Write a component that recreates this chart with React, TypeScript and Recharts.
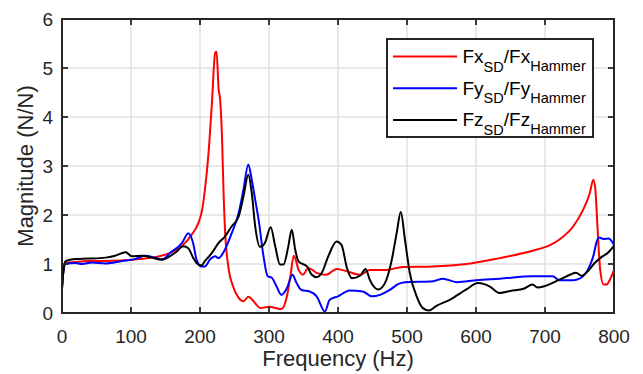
import React from 'react';
import { LineChart, Line, XAxis, YAxis, CartesianGrid, Legend, ReferenceArea } from 'recharts';

const FONT = "'Liberation Sans', Arial, Helvetica, sans-serif";
const AXIS = '#262626';
const PLOT_TOP = 19;
const PLOT_RIGHT = 614;
const TICK_LEN = 6;
const AXIS_W = 1.8;

const xTicks = [0, 100, 200, 300, 400, 500, 600, 700, 800];
const yTicks = [0, 1, 2, 3, 4, 5, 6];

// Fx_SD / Fx_Hammer (red)
const fxFreq = [0, 2, 5, 19, 38, 60, 87, 111, 135, 159, 174, 188, 198, 203, 207, 212, 217, 222, 224, 227, 229, 232, 234, 236.5, 241, 248, 256, 263, 270, 280, 287, 301, 310, 318, 326, 331, 336, 343, 349, 357, 369, 383, 398, 413, 432, 446, 470, 494, 538, 586, 634, 682, 708, 721, 741, 755, 765, 770, 773, 776, 780, 785, 789, 794, 800];
const fxMag = [0.5, 0.85, 1.02, 1.04, 1.06, 1.06, 1.07, 1.1, 1.14, 1.24, 1.37, 1.6, 1.85, 2.1, 2.5, 3.2, 4.22, 5.31, 5.33, 4.56, 4.38, 3.54, 2.52, 1.63, 0.95, 0.54, 0.31, 0.24, 0.33, 0.2, 0.1, 0.13, 0.1, 0.08, 0.34, 0.75, 1.17, 0.88, 0.78, 0.92, 0.82, 0.78, 0.9, 0.85, 0.78, 0.88, 0.88, 0.94, 0.95, 1.0, 1.12, 1.27, 1.39, 1.5, 1.77, 2.1, 2.45, 2.72, 2.52, 1.77, 0.88, 0.58, 0.58, 0.68, 0.88];

// Fy_SD / Fy_Hammer (blue)
const fyFreq = [0, 2, 5, 19, 29, 43, 63, 87, 106, 120, 135, 145, 157, 174, 183, 190, 195, 202, 207, 215, 222, 227, 236, 246, 256, 263, 270, 275, 280, 285, 292, 298, 304, 311, 318, 326, 334, 340, 347, 359, 369, 381, 388, 400, 417, 436, 449, 461, 475, 487, 497, 538, 552, 572, 601, 634, 682, 711, 721, 741, 750, 762, 770, 775, 778, 785, 792, 800];
const fyMag = [0.5, 0.85, 1.0, 1.02, 1.0, 1.03, 1.01, 1.06, 1.1, 1.17, 1.13, 1.09, 1.23, 1.43, 1.63, 1.43, 1.09, 0.95, 0.95, 1.1, 1.16, 1.12, 1.29, 1.63, 2.04, 2.52, 3.03, 2.72, 2.31, 1.9, 1.16, 0.75, 0.72, 0.54, 0.37, 0.51, 0.78, 0.61, 0.47, 0.44, 0.34, 0.03, 0.27, 0.34, 0.46, 0.44, 0.34, 0.37, 0.47, 0.59, 0.63, 0.65, 0.7, 0.63, 0.67, 0.7, 0.75, 0.75, 0.67, 0.67, 0.7, 0.88, 1.16, 1.46, 1.54, 1.51, 1.52, 1.39];

// Fz_SD / Fz_Hammer (black)
const fzFreq = [0, 2, 5, 19, 38, 63, 77, 92.5, 101, 116, 130, 145, 164, 176, 183, 190, 195, 202, 207, 217, 227, 236, 246, 256, 263, 270, 275, 280, 287, 294, 302.5, 309, 316, 321, 328, 333, 338, 343, 355, 362, 369, 376.5, 386, 398, 405, 413, 420, 432, 440, 446, 458, 468, 478, 485, 491, 497, 504, 514, 523, 532, 542, 562, 586, 603, 620, 634, 650, 670, 682, 689, 700, 721, 736, 745, 753, 762, 772, 780, 792, 800];
const fzMag = [0.5, 0.85, 1.06, 1.1, 1.11, 1.13, 1.17, 1.24, 1.16, 1.17, 1.13, 1.09, 1.23, 1.36, 1.32, 1.13, 1.02, 0.97, 1.06, 1.22, 1.43, 1.56, 1.77, 1.97, 2.38, 2.82, 2.45, 1.77, 1.35, 1.43, 1.75, 1.36, 0.99, 0.99, 1.36, 1.7, 1.29, 1.05, 0.95, 0.78, 0.73, 0.82, 1.16, 1.46, 1.39, 0.92, 0.71, 0.76, 0.9, 0.68, 0.48, 0.61, 1.09, 1.63, 2.06, 1.5, 0.82, 0.34, 0.1, 0.05, 0.14, 0.27, 0.48, 0.61, 0.54, 0.41, 0.45, 0.5, 0.58, 0.52, 0.55, 0.68, 0.78, 0.82, 0.76, 0.85, 1.02, 1.12, 1.24, 1.37];

const seriesNames = ['Fx', 'Fy', 'Fz'];
const seriesColors = ['#ff0000', '#0000ff', '#000000'];

const toData = (f: number[], m: number[]) => f.map((x, i) => ({ f: x, v: m[i] }));
const fxData = toData(fxFreq, fxMag);
const fyData = toData(fyFreq, fyMag);
const fzData = toData(fzFreq, fzMag);

const LegendBox = () => (
  <svg width={208} height={100} style={{ display: 'block' }}>
    <rect x={1} y={1} width={206} height={98} fill="#fff" stroke={AXIS} strokeWidth={2} />
    {seriesNames.map((n, i) => {
      const cy = 18.5 + i * 31.7;
      return (
        <g key={n}>
          <line x1={7} x2={71} y1={cy} y2={cy} stroke={seriesColors[i]} strokeWidth={2} />
          <text x={76.5} y={cy + 6.5} fontSize={19} fontFamily={FONT} fill="#000">
            {n}
            <tspan fontSize={14.5} dy={8.5}>SD</tspan>
            <tspan dy={-8.5}>/{n}</tspan>
            <tspan fontSize={14.5} dy={8}>Hammer</tspan>
          </text>
        </g>
      );
    })}
  </svg>
);

// bottom tick: label + mirrored inner tick on the top edge
const XTick = (props: any) => {
  const { x, y, payload } = props;
  return (
    <g>
      <line x1={x} x2={x} y1={PLOT_TOP} y2={PLOT_TOP + TICK_LEN} stroke={AXIS} strokeWidth={AXIS_W} />
      <text x={x} y={y} dy="0.71em" textAnchor="middle" fontSize={19} fontFamily={FONT} fill={AXIS}>
        {payload.value}
      </text>
    </g>
  );
};

// left tick: label + mirrored inner tick on the right edge
const YTick = (props: any) => {
  const { x, y, payload } = props;
  return (
    <g>
      <line x1={PLOT_RIGHT} x2={PLOT_RIGHT - TICK_LEN} y1={y} y2={y} stroke={AXIS} strokeWidth={AXIS_W} />
      <text x={x} y={y} dy="0.355em" textAnchor="end" fontSize={19} fontFamily={FONT} fill={AXIS}>
        {payload.value}
      </text>
    </g>
  );
};

export default function App() {
  const axisLine = { stroke: AXIS, strokeWidth: AXIS_W };
  return (
    <div style={{ position: 'absolute', left: 0, top: 0, width: 643, height: 374, background: '#fff' }}>
      <LineChart width={643} height={374} margin={{ top: PLOT_TOP, right: 643 - PLOT_RIGHT, left: 0, bottom: 0 }}>
        <CartesianGrid stroke="#e2e2e2" strokeWidth={1.5} />
        <XAxis
          type="number"
          dataKey="f"
          domain={[0, 800]}
          ticks={xTicks}
          interval={0}
          allowDataOverflow
          height={61}
          tickSize={-TICK_LEN}
          tickMargin={23}
          axisLine={axisLine}
          tickLine={axisLine}
          tick={<XTick />}
          label={{ value: 'Frequency (Hz)', position: 'insideBottom', offset: 8, style: { fill: AXIS, fontSize: 22, fontFamily: FONT } }}
        />
        <YAxis
          type="number"
          domain={[0, 6]}
          ticks={yTicks}
          interval={0}
          allowDataOverflow
          width={62}
          tickSize={-TICK_LEN}
          tickMargin={15}
          axisLine={axisLine}
          tickLine={axisLine}
          tick={<YTick />}
          label={{ value: 'Magnitude (N/N)', angle: -90, position: 'center', dx: -6, style: { fill: AXIS, fontSize: 22, fontFamily: FONT, textAnchor: 'middle' } }}
        />
        <ReferenceArea x1={0} x2={800} y1={0} y2={6} fill="none" fillOpacity={0} stroke={AXIS} strokeWidth={2} strokeOpacity={1} ifOverflow="visible" />
        <Line data={fxData} dataKey="v" name="Fx" type="monotone" stroke={seriesColors[0]} strokeWidth={2} dot={false} isAnimationActive={false} />
        <Line data={fyData} dataKey="v" name="Fy" type="monotone" stroke={seriesColors[1]} strokeWidth={2} dot={false} isAnimationActive={false} />
        <Line data={fzData} dataKey="v" name="Fz" type="monotone" stroke={seriesColors[2]} strokeWidth={2} dot={false} isAnimationActive={false} />
        <Legend
          layout="horizontal"
          verticalAlign="middle"
          align="center"
          wrapperStyle={{ left: 386, top: 38, width: 208, height: 100 }}
          content={() => <LegendBox />}
        />
      </LineChart>
    </div>
  );
}
